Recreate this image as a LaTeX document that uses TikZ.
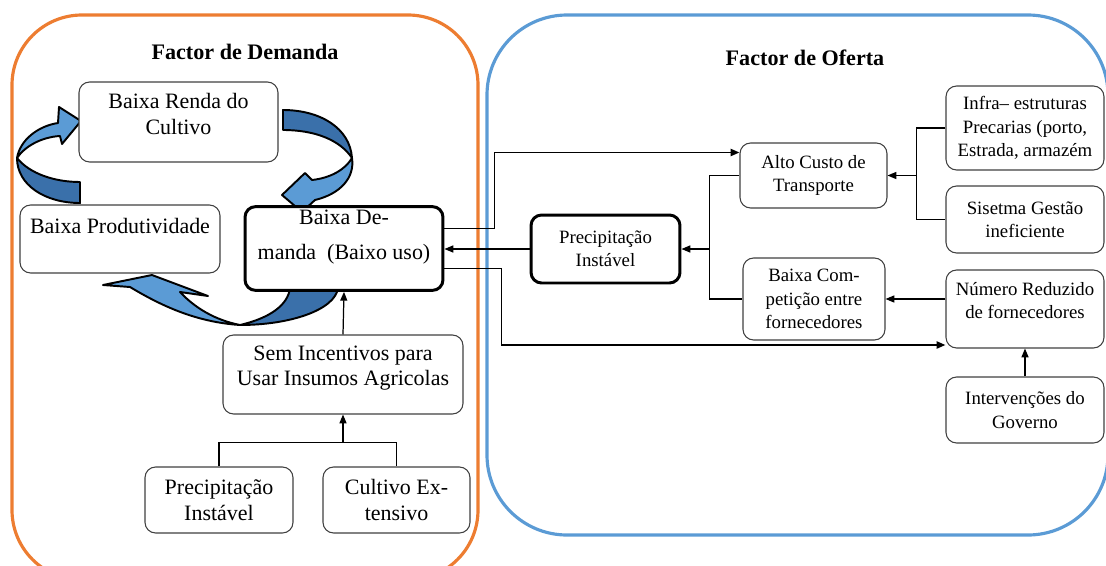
\documentclass[tikz,border=0pt]{standalone}
\usepackage{fontspec}
\setmainfont{Liberation Serif}
\usetikzlibrary{arrows.meta, calc, positioning}
\definecolor{demOrange}{RGB}{237,125,49}
\definecolor{ofeBlue}{RGB}{91,155,213}
\definecolor{arrLight}{RGB}{91,155,213}
\definecolor{arrDark}{RGB}{58,112,170}
\newcommand{\lfont}{\fontsize{12.5}{14.7}\selectfont}
\newcommand{\rfont}{\fontsize{10.7}{13.3}\selectfont}

\begin{document}
\begin{tikzpicture}[x=0.02cm, y=-0.02cm,
	lbox/.style={draw=black!75, line width=0.6pt, rounded corners=6pt, fill=white, align=center, font=\lfont, inner sep=2pt},
	rbox/.style={lbox, font=\rfont},
	hbox/.style={draw=black, line width=1.7pt},
	link/.style={line width=0.7pt},
	con/.style={link, -{Triangle[length=5pt,width=4pt]}},
	conb/.style={con, line width=1.1pt},
	ribbon/.style={draw=black, line width=1.1pt, line join=round}]
	\useasboundingbox (0,0) rectangle (1106,565);
	\clip (0,0) rectangle (1106,565);
	% Containers
	\draw[demOrange, line width=1.8pt, rounded corners=1.4cm] (12,15) rectangle (478,580);
	\draw[ofeBlue, line width=1.8pt, rounded corners=1.6cm] (487,15) rectangle (1108,535);
	\node[font=\bfseries\fontsize{12.6}{15}\selectfont] (tdem) at (245,52) {Factor de Demanda};
	\node[font=\bfseries\fontsize{12.6}{15}\selectfont] (tofe) at (805,58) {Factor de Oferta};
	% Cycle arrows (demand side)
	\filldraw[ribbon, fill=arrDark] (80,203) .. controls (45,203) and (17,185) .. (17,158) .. controls (30,174) and (55,182) .. (80,182) -- cycle;
	\filldraw[ribbon, fill=arrLight] (17,158) .. controls (20,140) and (38,126) .. (58,123) -- (59,107) -- (81,121) -- (62,144) -- (60,136) .. controls (42,137) and (25,146) .. (17,158) -- cycle;
	\filldraw[ribbon, fill=arrDark] (283,110) .. controls (320,110) and (350,128) .. (352,158) .. controls (340,140) and (315,130) .. (283,130) -- cycle;
	\filldraw[ribbon, fill=arrLight] (352,158) .. controls (355,178) and (340,194) .. (315,200) -- (302,212) -- (282,195) -- (305,173) -- (312,180) .. controls (330,178) and (345,170) .. (352,158) -- cycle;
	\filldraw[ribbon, fill=arrDark] (338,288) .. controls (335,310) and (290,325) .. (240,325) .. controls (270,318) and (288,305) .. (290,288) -- cycle;
	\filldraw[ribbon, fill=arrLight] (240,325) .. controls (195,322) and (160,305) .. (130,287) -- (103,285) -- (152,275) -- (208,296) -- (180,292) .. controls (195,308) and (215,320) .. (240,325) -- cycle;
	% Demand side boxes
	\node[lbox, minimum width=3.98cm, minimum height=1.6cm] (renda) at (178.5,122) {Baixa Renda do\\Cultivo\\[-5.6pt]\mbox{}};
	\node[lbox, minimum width=4cm, minimum height=1.36cm] (prod) at (120,239) {Baixa Produtividade\\\mbox{}};
	\node[lbox, hbox, minimum width=3.96cm, minimum height=1.66cm] (demanda) at (344,248.5) {Baixa De-\\[5pt]manda~~(Baixo uso)\\[1pt]\mbox{}};
	\node[lbox, minimum width=4.8cm, minimum height=1.58cm] (incent) at (343,374.5) {Sem Incentivos para\\Usar Insumos Agricolas\\[-4.7pt]\mbox{}};
	\node[lbox, minimum width=2.96cm, minimum height=1.32cm] (precL) at (219,500) {Precipitação\\Instável};
	\node[lbox, minimum width=2.94cm, minimum height=1.32cm] (cultivo) at (396.5,500) {Cultivo Ex-\\tensivo};
	% Supply side boxes
	\node[rbox, minimum width=2.94cm, minimum height=1.3cm] (custo) at (813.5,175.5) {Alto Custo de\\Transporte};
	\node[rbox, hbox, minimum width=2.98cm, minimum height=1.36cm] (precR) at (605.5,249) {Precipitação\\Instável};
	\node[rbox, minimum width=2.84cm, minimum height=1.64cm] (compet) at (814,299) {Baixa Com-\\petição entre\\fornecedores};
	\node[rbox, minimum width=3.16cm, minimum height=1.68cm] (infra) at (1025,128) {Infra– estruturas\\Precarias (porto,\\Estrada, armazém};
	\node[rbox, minimum width=3.16cm, minimum height=1.34cm] (gestao) at (1025,219.5) {Sisetma Gestão\\ineficiente};
	\node[rbox, minimum width=3.16cm, minimum height=1.56cm] (numero) at (1025,309) {Número Reduzido\\de fornecedores\\[-3.7pt]\mbox{}};
	\node[rbox, minimum width=3.16cm, minimum height=1.32cm] (interv) at (1025,410) {Intervenções do\\Governo};
	% Connectors
	\draw[con] (incent.north) -- (demanda.south);
	\coordinate (jprec) at ($(precL.north)+(0,-24)$);
	\draw[link] (precL.north) -- (jprec) -| (cultivo.north);
	\draw[con] (incent.south |- jprec) -- (incent.south);
	\draw[conb] ($(demanda.east)+(0,-20)$) -- ++(50,0) |- ($(custo.west)+(0,-23)$);
	\draw[con] (precR.west) -- (demanda.east |- precR.west);
	\draw[conb] ($(demanda.east)+(0,20)$) -- ++(57,0) |- ($(numero.west)+(0,36)$);
	\coordinate (jcusto) at ($(custo.west)+(-30,0)$);
	\draw[link] (custo.west) -- (jcusto) |- (compet.west);
	\draw[con] (jcusto |- precR.east) -- (precR.east);
	\coordinate (jinfra) at ($(infra.west)+(-29,0)$);
	\draw[link] (infra.west) -- (jinfra) |- (gestao.west);
	\draw[con] (jinfra |- custo.east) -- (custo.east);
	\draw[con] (numero.west |- compet.east) -- (compet.east);
	\draw[con] (interv.north) -- (numero.south);
\end{tikzpicture}
\end{document}
